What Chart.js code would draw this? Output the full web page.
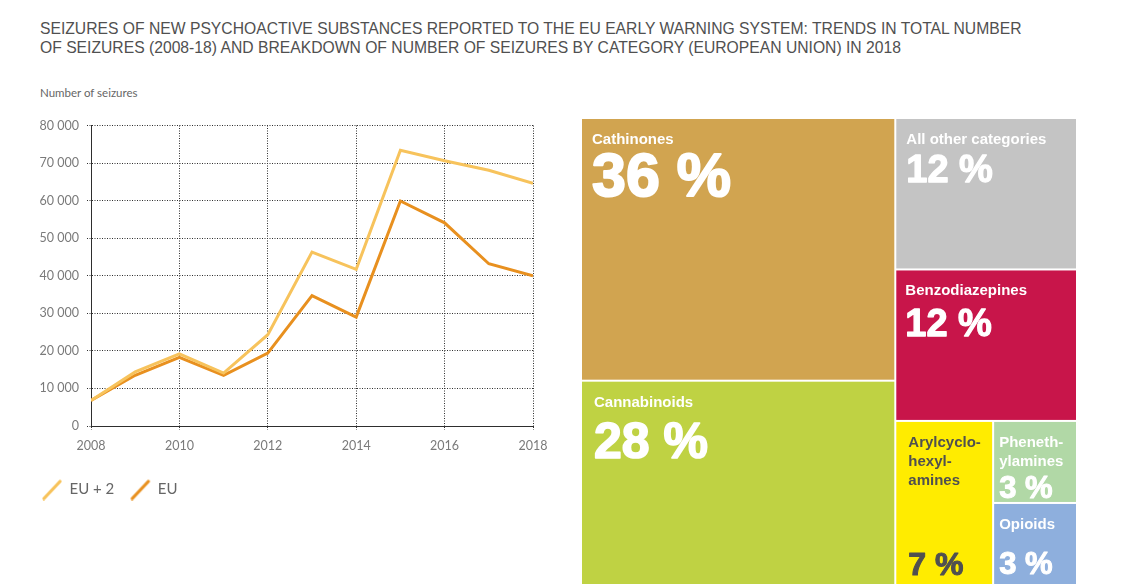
<!DOCTYPE html>
<html>
<head>
<meta charset="utf-8">
<script src="https://cdn.jsdelivr.net/npm/chart.js@4.4.1/dist/chart.umd.min.js"></script>
<style>
  html, body { margin: 0; padding: 0; background: #fff; }
  body { width: 1127px; height: 587px; position: relative; overflow: hidden; }
  #title {
    position: absolute; left: 40px; top: 19px;
    font-family: 'Liberation Sans', Arial, sans-serif; font-size: 15.7px; line-height: 19px;
    color: #505050;
  }
  #yTitle {
    position: absolute; left: 40px; top: 86px;
    font-family: Lato, sans-serif; font-size: 11.5px; color: #666;
  }
  #lineWrap { position: absolute; left: 26px; top: 110px; width: 534px; height: 400px; }
  #treeWrap { position: absolute; left: 575px; top: 110px; width: 510px; height: 480px; }
</style>
</head>
<body>
<div id="title">SEIZURES OF NEW PSYCHOACTIVE SUBSTANCES REPORTED TO THE EU EARLY WARNING SYSTEM: TRENDS IN TOTAL NUMBER<br>OF SEIZURES (2008-18) AND BREAKDOWN OF NUMBER OF SEIZURES BY CATEGORY (EUROPEAN UNION) IN 2018</div>
<div id="yTitle">Number of seizures</div>
<div id="lineWrap"><canvas id="lineChart"></canvas></div>
<div id="treeWrap"><canvas id="treeChart"></canvas></div>

<script>
// Trend data
const years = [2008, 2009, 2010, 2011, 2012, 2013, 2014, 2015, 2016, 2017, 2018];
const seizuresEU2 = [6800, 14400, 19200, 14100, 24300, 46300, 41700, 73400, 70600, 68100, 64600];
const seizuresEU = [6800, 13500, 18300, 13500, 19400, 34700, 29000, 59900, 54100, 43200, 40000];
const seriesNames = ['EU + 2', 'EU'];

// 2018 breakdown by category (%)
const categories = ['Cathinones', 'Cannabinoids', 'All other categories', 'Benzodiazepines',
  'Arylcyclohexylamines', 'Phenethylamines', 'Opioids'];
const shares = [36, 28, 12, 12, 7, 3, 3];
const tileLabelLines = [
  ['Cathinones'], ['Cannabinoids'], ['All other categories'], ['Benzodiazepines'],
  ['Arylcyclo-', 'hexyl-', 'amines'], ['Pheneth-', 'ylamines'], ['Opioids']
];
// nesting of the treemap (indexes into categories), split direction alternates
const treeGroups = [[0, 1], [2, 3, [4, [5, 6]]]];

const colors = { eu2: '#f7c35c', eu: '#e8901f', grid: '#2e2e2e', tick: '#7a7a7a' };
const tileColors = ['#d1a450', '#bfd243', '#c4c4c4', '#c8154a', '#ffec00', '#b1d8a6', '#8eafdd'];
const tileText = ['#fff', '#fff', '#fff', '#fff', '#505050', '#fff', '#fff'];
// text placement inside each tile: padX, number size, number baseline from top (or from bottom)
const tileStyle = [
  { padX: 11, size: 61, top: 78 },
  { padX: 13, size: 50, top: 77 },
  { padX: 11, size: 38, top: 64 },
  { padX: 10, size: 38, top: 67 },
  { padX: 13, size: 32, bottom: 10 },
  { padX: 6, size: 31, top: 77 },
  { padX: 6, size: 31, bottom: 11 }
];

function legendGlyph(color) {
  const c = document.createElement('canvas');
  c.width = 22; c.height = 22;
  const g = c.getContext('2d');
  g.strokeStyle = color; g.lineWidth = 3.2; g.lineCap = 'round';
  g.beginPath(); g.moveTo(3, 20); g.lineTo(19, 3); g.stroke();
  return c;
}

function formatThousands(v) {
  return v === 0 ? '0' : String(v).replace(/\B(?=(\d{3})+(?!\d))/g, ' ');
}

const gridOpts = {
  color: colors.grid, lineWidth: 1, tickLength: 4, drawTicks: true,
  tickBorderDash: [1, 1.5]
};
const borderOpts = { display: true, color: colors.grid, dash: [1, 1.5] };

new Chart(document.getElementById('lineChart'), {
  type: 'line',
  data: {
    datasets: [
      {
        label: seriesNames[0],
        data: years.map((y, i) => ({ x: y, y: seizuresEU2[i] })),
        borderColor: colors.eu2, backgroundColor: colors.eu2,
        borderWidth: 3, pointRadius: 0, tension: 0,
        pointStyle: legendGlyph(colors.eu2)
      },
      {
        label: seriesNames[1],
        data: years.map((y, i) => ({ x: y, y: seizuresEU[i] })),
        borderColor: colors.eu, backgroundColor: colors.eu,
        borderWidth: 3, pointRadius: 0, tension: 0,
        pointStyle: legendGlyph(colors.eu)
      }
    ]
  },
  options: {
    responsive: true,
    maintainAspectRatio: false,
    animation: false,
    layout: { padding: { top: 11, right: 27, bottom: 3, left: 0 } },
    plugins: {
      legend: {
        position: 'bottom',
        align: 'start',
        labels: {
          usePointStyle: true,
          pointStyleWidth: 20,
          padding: 16,
          color: '#666',
          font: { family: 'Lato', size: 15 }
        }
      },
      tooltip: { enabled: false }
    },
    scales: {
      x: {
        type: 'linear',
        min: 2008, max: 2018,
        afterFit: (scale) => { scale.height = 40; },
        ticks: {
          stepSize: 2, color: colors.tick, padding: 8,
          font: { family: 'Lato', size: 12.5 },
          callback: (v) => String(v)
        },
        grid: gridOpts,
        border: borderOpts
      },
      y: {
        min: 0, max: 80000,
        afterFit: (scale) => { scale.width = 65; },
        ticks: {
          stepSize: 10000, color: colors.tick, padding: 8,
          font: { family: 'Lato', size: 12.5 },
          callback: (v) => formatThousands(v)
        },
        grid: gridOpts,
        border: borderOpts
      }
    }
  }
});

// slice-and-dice layout in value units (0..100 each way)
function sumNode(node) {
  return Array.isArray(node) ? node.reduce((s, n) => s + sumNode(n), 0) : shares[node];
}
function layoutNode(node, x, y, w, h, horizontal, out) {
  if (!Array.isArray(node)) { out[node] = { x, y, w, h }; return; }
  const total = sumNode(node);
  let offset = 0;
  node.forEach((child) => {
    const f = sumNode(child) / total;
    if (horizontal) layoutNode(child, x + offset * w, y, w * f, h, !horizontal, out);
    else layoutNode(child, x, y + offset * h, w, h * f, !horizontal, out);
    offset += f;
  });
}
const tiles = [];
layoutNode(treeGroups, 0, 0, 100, 100, true, tiles);

const treemapPlugin = {
  id: 'treemap',
  afterDatasetsDraw(chart) {
    const { ctx, scales: { x, y } } = chart;
    tiles.forEach((t, i) => {
      const left = x.getPixelForValue(t.x);
      const right = x.getPixelForValue(t.x + t.w);
      const top = y.getPixelForValue(t.y);
      const bottom = y.getPixelForValue(t.y + t.h);
      ctx.save();
      ctx.fillStyle = tileColors[i];
      ctx.fillRect(left + 1, top + 1, right - left - 2, bottom - top - 2);

      const st = tileStyle[i];
      ctx.fillStyle = tileText[i];
      ctx.strokeStyle = tileText[i];
      ctx.textAlign = 'left';
      ctx.textBaseline = 'alphabetic';
      ctx.font = 'bold 15px "Liberation Sans", Arial, sans-serif';
      tileLabelLines[i].forEach((line, k) => {
        ctx.fillText(line, left + st.padX, top + 26 + k * 19);
      });
      // big share figure, thickened a little
      ctx.font = 'bold ' + st.size + 'px "Liberation Sans", Arial, sans-serif';
      ctx.lineWidth = Math.max(1, st.size / 30);
      ctx.lineJoin = 'round';
      const base = st.bottom !== undefined ? bottom - st.bottom : top + st.top;
      const text = shares[i] + ' %';
      ctx.strokeText(text, left + st.padX, base);
      ctx.fillText(text, left + st.padX, base);
      ctx.restore();
    });
  }
};

new Chart(document.getElementById('treeChart'), {
  type: 'scatter',
  data: { datasets: [{ data: [] }] },
  options: {
    responsive: true,
    maintainAspectRatio: false,
    animation: false,
    layout: { padding: { top: 8, right: 8, bottom: 5, left: 6 } },
    plugins: { legend: { display: false }, tooltip: { enabled: false } },
    scales: {
      x: { type: 'linear', min: 0, max: 100, display: false },
      y: { type: 'linear', min: 0, max: 100, reverse: true, display: false }
    }
  },
  plugins: [treemapPlugin]
});
</script>
</body>
</html>
